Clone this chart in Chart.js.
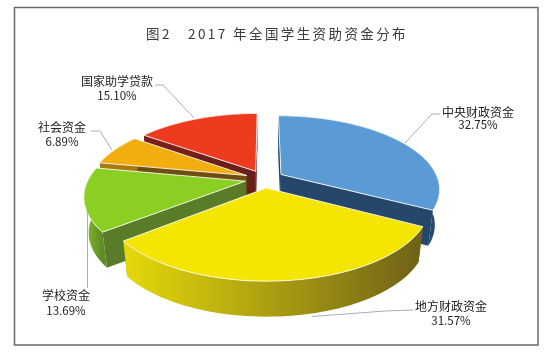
<!DOCTYPE html>
<html>
<head>
<meta charset="utf-8">
<script src="https://cdn.jsdelivr.net/npm/chart.js@4"></script>
<style>
  body { margin: 0; background: #fff; }
  canvas { display: block; }
</style>
</head>
<body>
<canvas id="pie" width="550" height="356"></canvas>
<script>
const chartTitle = "图2   2017 年全国学生资助资金分布";
const categories = ["中央财政资金", "地方财政资金", "学校资金", "社会资金", "国家助学贷款"];
const shares = [32.75, 31.57, 13.69, 6.89, 15.10];

// look of each slice, same order as categories
const topColors = ["#5b9bd5", "#f5e503", "#8ccf23", "#f2ae0f", "#ee3a1e"];
const cutColors = ["#24476b", "#8a7a10", "#5a7c28", "#6e4f10", "#6b1f1a"];
const rimColors = [["#2f628f", "#234a70"], ["#e6d90a", "#6e6118"], ["#84bf2a", "#5f8a26"], ["#a87a10", "#a87a10"], ["#7a2018", "#7a2018"]];
const drawOrder = [4, 3, 2, 0, 1];

// where the label text and its leader line sit, same order as categories
const labelBoxes = [[478, 112, 125], [451, 306, 321], [66, 295, 311], [62, 127, 142], [117, 81, 96]];
const leaders = [
    [[440, 114], [432, 114], [405, 143]],
    [[413, 310], [385, 311], [312, 316.5]],
    [[87.5, 288], [87.5, 208]],
    [[91, 131], [100, 131], [112, 150]],
    [[155, 85], [163, 85], [194, 118]]
];

// tilted view of the pie plane
const view = { x: 264.5, y: 179, a: 71.5, b: 157, k: 0.19, depth: 35.5, shrink: 0.973 };

function project(u, v, low) {
    const w = 1 + view.k * v;
    let x = view.x + view.b * u / w;
    let y = view.y - view.a * v / w;
    if (low) {
        x = view.x + (x - view.x) * view.shrink;
        y += view.depth;
    }
    return [x, y];
}

function tracePath(ctx, points) {
    ctx.beginPath();
    points.forEach((p, i) => {
        if (i === 0) ctx.moveTo(p[0], p[1]);
        else ctx.lineTo(p[0], p[1]);
    });
}

function drawSlice(ctx, arc, i) {
    const props = arc.getProps(["startAngle", "endAngle", "outerRadius"], true);
    const mid = (props.startAngle + props.endAngle) / 2;
    const d = arc.options.offset / props.outerRadius;
    const du = d * Math.cos(mid);
    const dv = -d * Math.sin(mid);

    const steps = 60;
    const rimTop = [];
    const rimLow = [];
    for (let s = 0; s <= steps; s++) {
        const a = props.startAngle + (props.endAngle - props.startAngle) * s / steps;
        rimTop.push(project(du + Math.cos(a), dv - Math.sin(a), false));
        rimLow.push(project(du + Math.cos(a), dv - Math.sin(a), true));
    }
    const apexTop = project(du, dv, false);
    const apexLow = project(du, dv, true);

    // two cut faces
    ctx.fillStyle = cutColors[i];
    tracePath(ctx, [apexTop, rimTop[0], rimLow[0], apexLow]);
    ctx.closePath();
    ctx.fill();
    tracePath(ctx, [apexTop, rimTop[steps], rimLow[steps], apexLow]);
    ctx.closePath();
    ctx.fill();

    // outer wall
    const xs = rimTop.map(p => p[0]);
    const grad = ctx.createLinearGradient(Math.min(...xs), 0, Math.max(...xs), 0);
    grad.addColorStop(0, rimColors[i][0]);
    grad.addColorStop(1, rimColors[i][1]);
    ctx.fillStyle = grad;
    tracePath(ctx, rimTop.concat(rimLow.slice().reverse()));
    ctx.closePath();
    ctx.fill();

    // top face
    tracePath(ctx, [apexTop].concat(rimTop));
    ctx.closePath();
    ctx.fillStyle = topColors[i];
    ctx.fill();
    ctx.strokeStyle = "rgba(255,255,255,0.85)";
    ctx.lineWidth = 1;
    ctx.stroke();
}

const pie3d = {
    id: "pie3d",
    beforeDraw(chart) {
        chart.ctx.letterSpacing = "2.4px";
    },
    beforeDatasetDraw(chart, args) {
        const ctx = chart.ctx;
        const arcs = chart.getDatasetMeta(args.index).data;
        ctx.save();
        drawOrder.forEach(i => drawSlice(ctx, arcs[i], i));
        ctx.restore();
        return false;
    },
    afterDraw(chart) {
        const ctx = chart.ctx;
        ctx.save();
        ctx.letterSpacing = "0px";

        ctx.strokeStyle = "#6a6a6a";
        ctx.lineWidth = 1.5;
        ctx.strokeRect(14.5, 7.5, 523.5, 337.5);

        ctx.strokeStyle = "#a9adb0";
        ctx.lineWidth = 1;
        leaders.forEach(line => {
            tracePath(ctx, line);
            ctx.stroke();
        });

        ctx.textAlign = "center";
        ctx.textBaseline = "middle";
        ctx.fillStyle = "#222";
        categories.forEach((name, i) => {
            const box = labelBoxes[i];
            ctx.font = "12px 'Noto Sans CJK SC'";
            ctx.fillText(name, box[0], box[1]);
            ctx.font = "11.5px 'Noto Sans CJK SC'";
            ctx.fillText(shares[i].toFixed(2) + "%", box[0], box[2]);
        });
        ctx.restore();
    }
};

new Chart(document.getElementById("pie").getContext("2d"), {
    type: "pie",
    data: {
        labels: categories,
        datasets: [{ data: shares, backgroundColor: topColors, offset: 18, borderWidth: 0 }]
    },
    options: {
        responsive: false,
        animation: false,
        layout: { padding: { left: 4 } },
        plugins: {
            legend: { display: false },
            tooltip: { enabled: false },
            title: {
                display: true,
                fullSize: false,
                text: chartTitle,
                color: "#3c3c3c",
                font: { family: "'Noto Sans CJK SC'", size: 13.5, weight: "normal" },
                padding: { top: 26, bottom: 6 }
            }
        }
    },
    plugins: [pie3d]
});
</script>
</body>
</html>
